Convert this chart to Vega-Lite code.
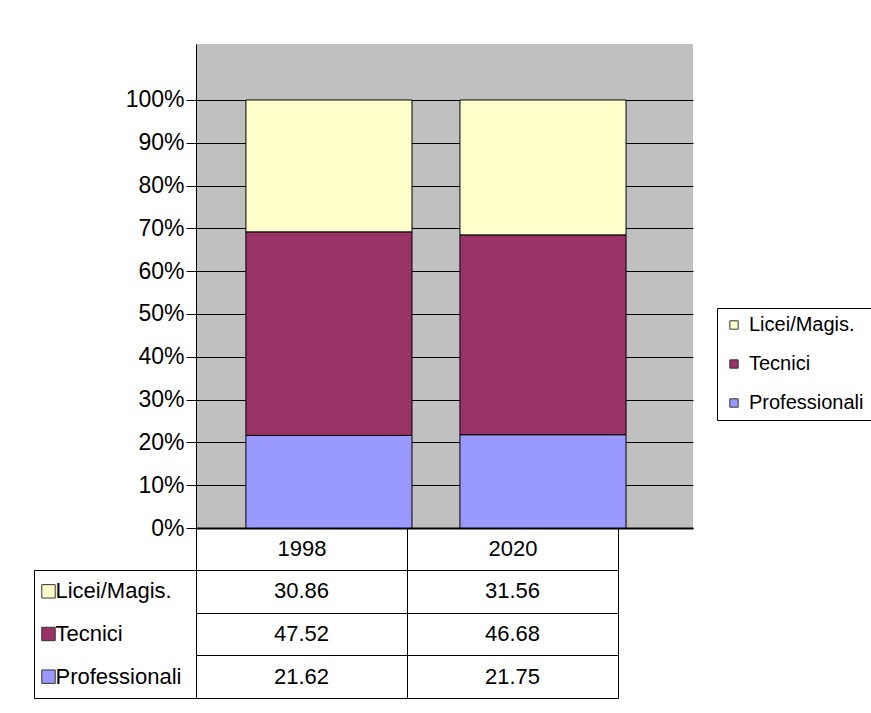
{
  "$schema": "https://vega.github.io/schema/vega-lite/v6.json",
  "padding": {"left": 33, "top": 44, "right": 2, "bottom": 5},
  "config": {
    "font": "Liberation Sans",
    "view": {"stroke": null},
    "axis": {"labelColor": "black", "domainColor": "black", "tickColor": "black"}
  },
  "datasets": {
    "scuole": [
      {"Anno": "1998", "Tipo": "Licei/Magis.", "Quota": 30.86, "ord": 3},
      {"Anno": "1998", "Tipo": "Tecnici", "Quota": 47.52, "ord": 2},
      {"Anno": "1998", "Tipo": "Professionali", "Quota": 21.62, "ord": 1},
      {"Anno": "2020", "Tipo": "Licei/Magis.", "Quota": 31.56, "ord": 3},
      {"Anno": "2020", "Tipo": "Tecnici", "Quota": 46.68, "ord": 2},
      {"Anno": "2020", "Tipo": "Professionali", "Quota": 21.75, "ord": 1}
    ]
  },
  "columns": 2,
  "spacing": {"row": 42, "column": 0},
  "bounds": "flush",
  "concat": [
    {
      "width": 162,
      "height": 10,
      "data": {"values": []},
      "mark": {"type": "point"},
      "encoding": {}
    },
    {
      "width": 497,
      "height": 484,
      "view": {"fill": "#c0c0c0", "stroke": null},
      "data": {"name": "scuole"},
      "mark": {"type": "bar", "stroke": "black", "strokeWidth": 1},
      "encoding": {
        "x": {
          "field": "Anno", "type": "nominal",
          "scale": {"paddingInner": 0.224, "paddingOuter": 0.273, "align": 0.427},
          "axis": {"labels": false, "ticks": false, "title": null, "domainWidth": 2}
        },
        "y": {
          "field": "Quota", "type": "quantitative", "stack": "normalize",
          "scale": {"domain": [0, 1.1308], "nice": false, "zero": true},
          "axis": {
            "values": [0, 0.1, 0.2, 0.3, 0.4, 0.5, 0.6, 0.7, 0.8, 0.9, 1],
            "format": ".0%", "title": null, "labelFontSize": 23, "tickSize": 10,
            "labelPadding": 2, "grid": true, "gridColor": "#000000", "gridWidth": 1
          }
        },
        "color": {
          "field": "Tipo", "type": "nominal",
          "scale": {"domain": ["Licei/Magis.", "Tecnici", "Professionali"], "range": ["#FFFFCC", "#993366", "#9999FF"]},
          "legend": {
            "orient": "none", "legendX": 683, "legendY": 264, "title": null,
            "strokeColor": "black", "fillColor": "white", "padding": 7,
            "labelFontSize": 20, "labelColor": "black", "symbolType": "square", "symbolSize": 70,
            "symbolStrokeColor": "#333333", "symbolStrokeWidth": 1, "symbolOpacity": 1, "rowPadding": 19, "labelOffset": 5
          }
        },
        "order": {"field": "ord", "type": "quantitative"}
      }
    },
    {
      "width": 162,
      "height": 128,
      "view": {"stroke": "black"},
      "data": {"name": "scuole"},
      "transform": [{"filter": "datum.Anno == '1998'"}],
      "layer": [
        {
          "mark": {"type": "square", "filled": true, "size": 180, "stroke": "#333333", "strokeWidth": 1, "opacity": 1},
          "encoding": {
            "x": {"datum": "sym", "type": "nominal", "scale": {"type": "point", "domain": ["sym", "name"], "range": [11, 25]}, "axis": null},
            "y": {
              "field": "Tipo", "type": "nominal",
              "scale": {"type": "band", "domain": ["Licei/Magis.", "Tecnici", "Professionali"], "paddingInner": 0, "paddingOuter": 0},
              "axis": null
            },
            "color": {"field": "Tipo", "type": "nominal", "scale": {"domain": ["Licei/Magis.", "Tecnici", "Professionali"], "range": ["#FFFFCC", "#993366", "#9999FF"]}}
          }
        },
        {
          "mark": {"type": "text", "align": "left", "baseline": "middle", "fontSize": 22, "color": "black"},
          "encoding": {
            "x": {"datum": "name", "type": "nominal", "axis": null},
            "y": {
              "field": "Tipo", "type": "nominal",
              "axis": {"labels": false, "ticks": false, "domain": false, "grid": true, "gridColor": "black", "tickBand": "extent", "title": null}
            },
            "text": {"field": "Tipo"}
          }
        }
      ]
    },
    {
      "width": 422,
      "height": 128,
      "data": {"name": "scuole"},
      "mark": {"type": "text", "fontSize": 22, "color": "black", "baseline": "middle"},
      "encoding": {
        "x": {
          "field": "Anno", "type": "nominal",
          "scale": {"type": "band", "paddingInner": 0, "paddingOuter": 0},
          "axis": {"orient": "top", "title": null, "tickBand": "extent", "tickSize": 42, "labelPadding": -32,
                   "labelFontSize": 22, "labelAngle": 0, "grid": true, "gridColor": "black"}
        },
        "y": {
          "field": "Tipo", "type": "nominal",
          "scale": {"type": "band", "domain": ["Licei/Magis.", "Tecnici", "Professionali"], "paddingInner": 0, "paddingOuter": 0},
          "axis": {"labels": false, "ticks": false, "domain": false, "grid": true, "gridColor": "black", "tickBand": "extent", "title": null}
        },
        "text": {"field": "Quota", "type": "quantitative", "format": ".2f"}
      }
    }
  ],
  "resolve": {"scale": {"x": "independent", "y": "independent", "color": "shared"}}
}
